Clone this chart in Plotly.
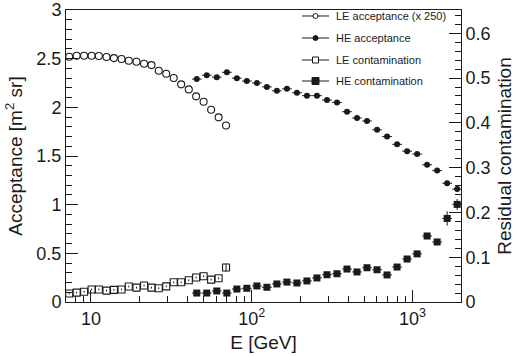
import plotly.graph_objects as go

# ---- data ----
le_energy = [7.33, 8.15, 9.07, 10.1, 11.2, 12.5, 13.9, 15.5, 17.2, 19.2, 21.4,
             23.8, 26.4, 29.4, 32.7, 36.4, 40.6, 45.1, 50.2, 55.9, 62.2, 69.2]
le_acceptance = [2.52, 2.53, 2.53, 2.53, 2.527, 2.517, 2.506, 2.496, 2.479, 2.468, 2.448,
                 2.434, 2.376, 2.345, 2.301, 2.236, 2.184, 2.113, 2.057, 1.975, 1.897, 1.814]
le_contamination = [0.019, 0.021, 0.023, 0.028, 0.028, 0.0255, 0.027, 0.028, 0.0345, 0.032, 0.0367,
                    0.032, 0.0306, 0.035, 0.044, 0.044, 0.0485, 0.0546, 0.0575, 0.050, 0.053, 0.077]
le_contamination_err = [0.002] * 21 + [0.009]

he_energy = [45.5, 52.5, 60.6, 70.0, 80.8, 93.2, 107.6, 124.2, 143.3, 165.4, 190.9, 220.3, 254.3,
             293.5, 338.8, 391, 451.2, 520.8, 601.2, 693.8, 800.8, 924.4, 1066.7, 1231, 1421, 1640, 1893]
he_acceptance = [2.29, 2.33, 2.31, 2.36, 2.30, 2.27, 2.25, 2.21, 2.17, 2.19, 2.15, 2.12, 2.12,
                 2.075, 2.05, 1.955, 1.89, 1.86, 1.77, 1.70, 1.62, 1.55, 1.52, 1.41, 1.35, 1.22, 1.16]
he_acceptance_err = [0.005] * 22 + [0.01, 0.015, 0.02, 0.025, 0.03]
he_contamination = [0.020, 0.020, 0.0246, 0.020, 0.029, 0.0306, 0.0358, 0.0329, 0.0403, 0.0445,
                    0.0425, 0.047, 0.0537, 0.0609, 0.0631, 0.0736, 0.0671, 0.0765, 0.072, 0.0604,
                    0.0781, 0.096, 0.1074, 0.1474, 0.134, 0.1866, 0.2179]
he_contamination_err = [0.002] * 20 + [0.003, 0.004, 0.005, 0.007, 0.007, 0.016, 0.012]

# bin half-width factors for the HE horizontal error bars (log binning)
bin_up = 0.072
bin_dn = 0.067
he_xerr_plus = [e * bin_up for e in he_energy]
he_xerr_minus = [e * bin_dn for e in he_energy]

x_ticks = [10, 100, 1000]
x_ticktext = ["10", "10<sup>2</sup>", "10<sup>3</sup>"]
x_minor = [8, 9, 20, 30, 40, 50, 60, 70, 80, 90, 200, 300, 400, 500, 600, 700, 800, 900]

legend_names = ["LE acceptance (x 250)", "HE acceptance", "LE contamination", "HE contamination"]

FONT = "Liberation Sans, Arial, Helvetica, sans-serif"
BLACK = "#1a1a1a"

W, H = 516, 356
ML, MR, MT, MB = 66, 55, 10, 54
PW, PH = W - ML - MR, H - MT - MB

fig = go.Figure()

fig.add_trace(go.Scatter(
    x=le_energy, y=le_acceptance, mode="markers", name=legend_names[0], showlegend=False,
    marker=dict(symbol="circle-open", size=7, color=BLACK, line=dict(width=1.1)),
))
fig.add_trace(go.Scatter(
    x=he_energy, y=he_acceptance, mode="markers", name=legend_names[1], showlegend=False,
    marker=dict(symbol="circle", size=6, color=BLACK),
    error_x=dict(type="data", symmetric=False, array=he_xerr_plus, arrayminus=he_xerr_minus,
                 width=0, thickness=1, color=BLACK),
    error_y=dict(type="data", array=he_acceptance_err, width=0, thickness=1, color=BLACK),
))
fig.add_trace(go.Scatter(
    x=le_energy, y=le_contamination, mode="markers", name=legend_names[2], showlegend=False, yaxis="y2",
    marker=dict(symbol="square-open", size=7, color=BLACK, line=dict(width=1.1)),
    error_y=dict(type="data", array=le_contamination_err, width=0, thickness=1, color=BLACK),
))
fig.add_trace(go.Scatter(
    x=he_energy, y=he_contamination, mode="markers", name=legend_names[3], showlegend=False, yaxis="y2",
    marker=dict(symbol="square", size=7, color=BLACK),
    error_x=dict(type="data", symmetric=False, array=he_xerr_plus, arrayminus=he_xerr_minus,
                 width=0, thickness=1, color=BLACK),
    error_y=dict(type="data", array=he_contamination_err, width=0, thickness=1, color=BLACK),
))

# ---- ROOT-style legend (line + marker + label) drawn with shapes/annotations ----
def px_x(p):
    return (p - ML) / PW

def px_y(p):
    return (H - MB - p) / PH

legend_row_px = [16, 38, 60, 81]
legend_marker = [("circle", False, 5), ("circle", True, 5), ("rect", False, 6), ("rect", True, 7)]
line_x0, line_x1, mark_cx, text_x = 302, 329, 315.5, 334

shapes = []
annotations = []
for name, ypx, (kind, filled, sz) in zip(legend_names, legend_row_px, legend_marker):
    shapes.append(dict(type="line", xref="paper", yref="paper",
                       x0=px_x(line_x0), x1=px_x(line_x1), y0=px_y(ypx), y1=px_y(ypx),
                       line=dict(color=BLACK, width=1)))
    h = sz / 2
    shapes.append(dict(type=kind, xref="paper", yref="paper",
                       x0=px_x(mark_cx - h), x1=px_x(mark_cx + h),
                       y0=px_y(ypx + h), y1=px_y(ypx - h),
                       fillcolor=BLACK if filled else "white",
                       line=dict(color=BLACK, width=1)))
    annotations.append(dict(text=name, xref="paper", yref="paper",
                            x=px_x(text_x), y=px_y(ypx), xanchor="left", yanchor="middle",
                            showarrow=False, font=dict(size=11, family=FONT, color=BLACK)))

fig.update_layout(
    width=W, height=H,
    margin=dict(l=ML, r=MR, t=MT, b=MB, autoexpand=False),
    paper_bgcolor="white", plot_bgcolor="white",
    font=dict(family=FONT, color=BLACK, size=18),
    showlegend=False,
    shapes=shapes,
    annotations=annotations,
    xaxis=dict(
        type="log", range=[0.845, 3.301],
        tickmode="array", tickvals=x_ticks, ticktext=x_ticktext,
        ticks="inside", ticklen=12, tickwidth=1, tickcolor=BLACK,
        minor=dict(tickmode="array", tickvals=x_minor, ticks="inside", ticklen=6,
                   tickwidth=1, tickcolor=BLACK, showgrid=False),
        showline=True, linecolor=BLACK, linewidth=1, mirror=True,
        showgrid=False, zeroline=False,
        tickfont=dict(size=18),
        title=dict(text="E [GeV]", font=dict(size=19), standoff=8),
    ),
    yaxis=dict(
        range=[0, 3], tickmode="linear", tick0=0, dtick=0.5,
        ticks="inside", ticklen=12, tickwidth=1, tickcolor=BLACK,
        minor=dict(dtick=0.1, ticks="inside", ticklen=6, tickwidth=1, tickcolor=BLACK, showgrid=False),
        showline=True, linecolor=BLACK, linewidth=1,
        showgrid=False, zeroline=False,
        tickfont=dict(size=18),
        title=dict(text="Acceptance [m<sup>2</sup> sr]", font=dict(size=19), standoff=8),
    ),
    yaxis2=dict(
        overlaying="y", side="right", anchor="x",
        range=[0, 0.652], tickmode="linear", tick0=0, dtick=0.1,
        ticks="inside", ticklen=12, tickwidth=1, tickcolor=BLACK,
        minor=dict(dtick=0.02, ticks="inside", ticklen=6, tickwidth=1, tickcolor=BLACK, showgrid=False),
        showline=True, linecolor=BLACK, linewidth=1,
        showgrid=False, zeroline=False,
        tickfont=dict(size=18),
        title=dict(text="Residual contamination", font=dict(size=19), standoff=8),
    ),
)

fig.write_html("out.html")
